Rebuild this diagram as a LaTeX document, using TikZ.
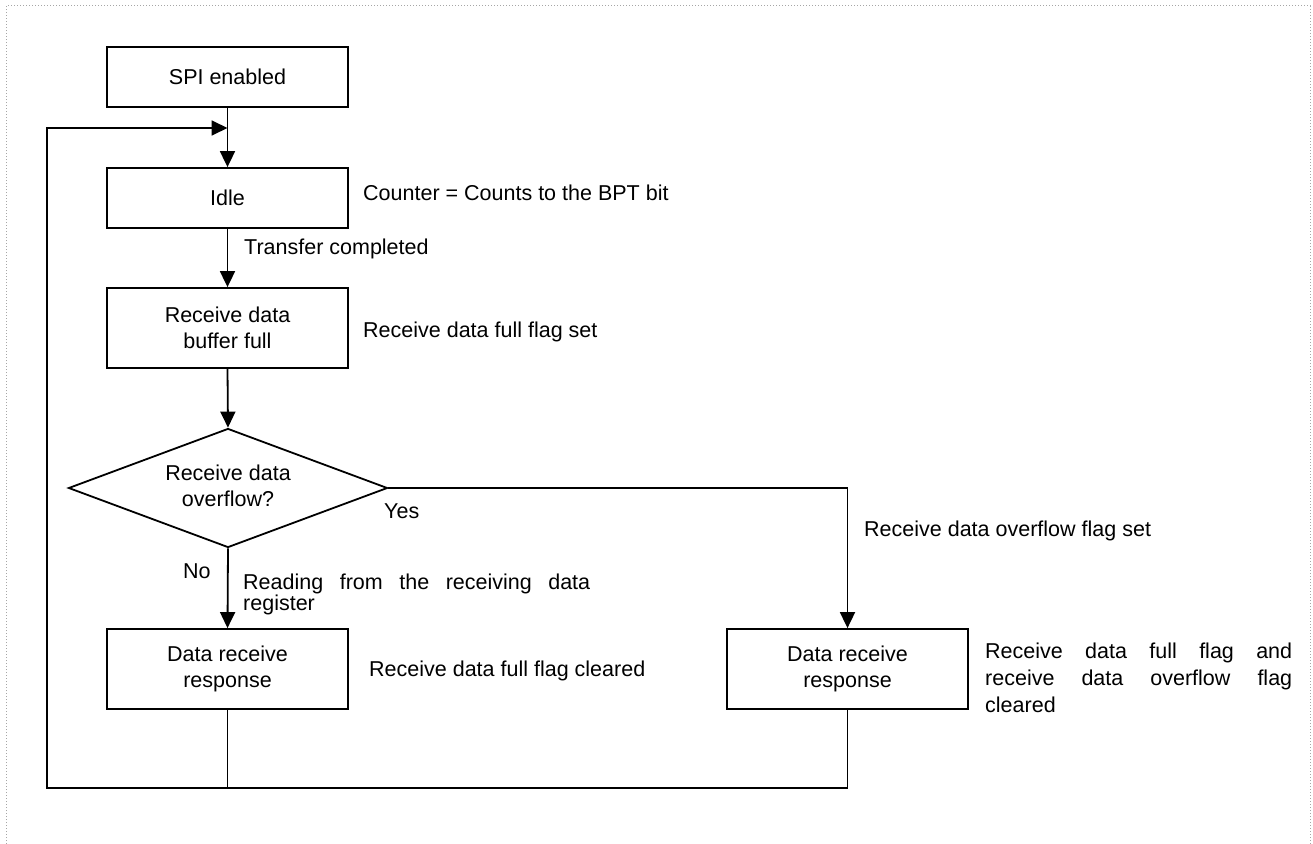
\documentclass[tikz,border=0pt]{standalone}
\usepackage{fontspec}
\setmainfont{Liberation Sans}
\usetikzlibrary{arrows.meta,shapes.geometric}
\begin{document}
\begin{tikzpicture}[x=1pt,y=-1pt,
  every node/.style={font=\fontsize{21.5}{26.5}\selectfont},
  box/.style={draw,line width=1.8pt,minimum width=241pt,inner sep=0pt,align=center},
  dia/.style={draw,diamond,shape aspect=2.68,line width=1.8pt,minimum width=319pt,minimum height=119pt,inner sep=0pt,align=center},
  lbl/.style={anchor=west,inner sep=0pt,align=left},
  conn/.style={line width=1.8pt},
  arr/.style={line width=1.8pt,-{Triangle[length=16pt,width=15pt]}},
  frame/.style={draw=gray!70,dotted,line width=1pt}]
\useasboundingbox (0,0) rectangle (1313,843);
\draw[frame] (6,850) -- (6,6) -- (1310,6) -- (1310,850);

\node[box,minimum height=60pt] (spi) at (227.5,77) {SPI enabled};
\node[box,minimum height=60pt] (idle) at (227.5,198) {Idle};
\node[box,minimum height=80pt] (buf) at (227.5,328) {Receive data\\buffer full};
\node[dia] (ovf) at (228,488) {\raisebox{4pt}{\begin{tabular}{@{}c@{}}Receive data\\overflow?\end{tabular}}};
\node[box,minimum height=80pt] (lbox) at (227.5,669) {Data receive\\response};
\node[box,minimum height=80pt] (rbox) at (847.5,669) {Data receive\\response};

\coordinate (jn) at (227.5,128);
\coordinate (bl) at (47,788);

\node[lbl] (ctr) at (363,193) {Counter = Counts to the BPT bit};
\node[lbl] (tc) at (244,249) {Transfer completed};
\node[lbl] (rfs) at (363,332) {Receive data full flag set};
\node[lbl] (yes) at (384,511) {Yes};
\node[lbl] (no) at (183,571) {No};
\node[lbl,font=\fontsize{21.5}{21}\selectfont] (rd) at (243,594) {\makebox[347pt][s]{Reading from the receiving data}\\register};
\node[lbl] (rdfc) at (369,671) {Receive data full flag cleared};
\node[lbl] (rdof) at (864,531) {Receive data overflow flag set};
\node[lbl,font=\fontsize{21.5}{26.7}\selectfont] (rboth) at (985,678) {\makebox[307pt][s]{Receive data full flag and}\\\makebox[307pt][s]{receive data overflow flag}\\cleared};

\draw[arr] (spi.south) -- (idle.north);
\draw[arr] (idle.south) -- (buf.north);
\draw[arr] (buf.south) -- (ovf.north);
\draw[arr] (ovf.south) -- (lbox.north);
\draw[arr] (ovf.east) -| (rbox.north);
\draw[conn] (lbox.south) -- (lbox.south |- bl);
\draw[arr] (rbox.south) |- (bl) |- (jn);
\end{tikzpicture}
\end{document}
